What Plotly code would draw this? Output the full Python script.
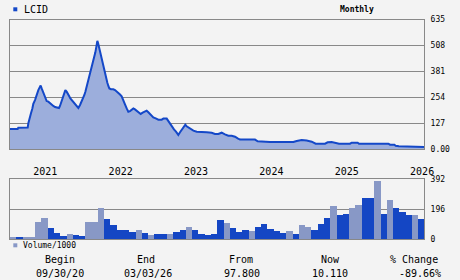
import plotly.graph_objects as go

# ---- data ----
symbol = "LCID"
period = "Monthly"
year_labels = ["2021", "2022", "2023", "2024", "2025", "2026"]
begin_date = "09/30/20"
end_date = "03/03/26"

# months since 09/30/20 and split-adjusted price
price_month = [0.0, 1.3, 1.4, 2.9, 3.0, 3.26, 3.42, 3.64, 3.79, 4.06, 4.22, 4.43, 4.59, 4.80, 4.96,
               5.12, 5.28, 5.44, 5.60, 5.76, 5.92, 6.18, 6.45, 6.71, 6.98, 7.25, 7.67, 7.88, 8.04,
               8.20, 8.41, 8.57, 8.73, 8.89, 9.10, 9.26, 9.47, 9.69, 9.90, 10.16, 10.43, 10.70,
               10.96, 11.23, 11.49, 11.76, 11.92, 12.08, 12.29, 12.45, 12.66, 12.82, 12.98, 13.14,
               13.30, 13.51, 13.67, 13.83, 13.99, 14.14, 14.30, 14.46, 14.62, 14.78, 14.94, 15.10,
               15.26, 15.42, 15.58, 15.74, 15.90, 16.16, 16.53, 16.80, 17.07, 17.33, 17.60, 17.86,
               18.13, 18.39, 18.66, 18.92, 19.19, 19.45, 19.72, 19.98, 20.25, 20.51, 20.89, 21.20,
               21.58, 21.84, 22.11, 22.37, 22.64, 22.90, 23.28, 23.70, 24.23, 24.50, 25.03, 25.29,
               25.56, 25.82, 26.19, 26.51, 26.88, 27.15, 27.42, 27.68, 28.00, 28.21, 28.48, 28.85,
               29.28, 29.81, 30.87, 31.40, 32.19, 32.72, 33.25, 33.78, 34.31, 34.84, 35.38, 35.91,
               36.33, 36.70, 39.09, 39.52, 41.48, 45.20, 45.73, 46.52, 47.32, 48.12, 48.75, 50.24,
               50.66, 51.30, 52.47, 54.22, 54.49, 55.44, 55.65, 60.32, 60.59, 61.28, 61.49, 62.0,
               66.0]
price_value = [97.8, 98, 104, 105, 126, 150, 175, 199, 221, 240, 257, 273, 289, 302, 311,
               297, 284, 273, 257, 245, 235, 232, 224, 216, 211, 206, 203, 201, 211,
               227, 248, 265, 281, 289, 281, 268, 261, 248, 240, 232, 221, 211,
               201, 216, 232, 248, 265, 281, 306, 327, 346, 371, 387, 407,
               428, 453, 474, 502, 530, 515, 494, 469, 445, 420, 396, 374,
               358, 342, 325, 309, 297, 293, 293, 289, 283, 276, 267, 258,
               242, 219, 199, 183, 186, 194, 199, 194, 186, 180, 172, 178,
               185, 188, 180, 172, 163, 155, 150, 144, 144, 149, 149, 137,
               121, 108, 96, 85, 69, 82, 96, 108, 119, 111, 105, 96,
               90, 85, 85, 82, 80, 74, 74, 80, 72, 65, 65, 60,
               52, 46, 46, 38, 34, 34, 39, 44, 42, 36, 26, 26,
               33, 34, 26, 26, 31, 31, 26, 26, 21, 21, 16, 14,
               10.11]

# monthly volume (/1000) and up-month flag
volume = [11, 11, 11, 11, 110, 134, 68, 35, 15, 29, 22, 15, 110, 110, 204, 127, 88, 55, 55, 44,
          55, 35, 27, 33, 33, 33, 46, 60, 80, 54, 33, 27, 33, 120, 106, 72, 46, 59, 53, 79,
          99, 66, 53, 40, 53, 33, 92, 79, 59, 99, 138, 217, 158, 165, 204, 224, 270, 264, 376,
          165, 257, 204, 178, 158, 158, 132]
up_month = [1, 0, 1, 1, 1, 1, 0, 0, 0, 1, 0, 0, 1, 1, 1, 0, 0, 0, 0, 0,
            1, 0, 1, 0, 0, 1, 0, 0, 1, 0, 0, 0, 0, 0, 1, 0, 0, 0, 1, 0,
            0, 0, 0, 0, 1, 0, 1, 1, 0, 0, 0, 1, 0, 0, 1, 1, 0, 0, 1,
            0, 1, 0, 0, 0, 1, 0]

price_ticks = [0, 127, 254, 381, 508, 635]
price_tick_text = ["0.00", "127", "254", "381", "508", "635"]
vol_ticks = [0, 196, 392]

# ---- styling ----
W, H = 460, 280
BG = "#f3f3f3"
GRID = "#888888"
LINE = "#1448c8"
FILL = "#9caedc"
DARK = "#1446c4"
LIGHT = "#8898c6"
MONO = "DejaVu Sans Mono"


def px(x):
    return x / W


def py(y):
    return 1 - y / H


n_months = len(volume)
x_dom = [px(9.5), px(424)]

fig = go.Figure()
fig.add_trace(go.Scatter(
    x=price_month, y=price_value, mode="lines", fill="tozeroy",
    fillcolor=FILL, line=dict(color=LINE, width=2), xaxis="x", yaxis="y",
    showlegend=False, hoverinfo="skip"))
fig.add_trace(go.Bar(
    x=[i + 0.5 for i in range(n_months)], y=volume, width=1,
    marker=dict(color=[LIGHT if u else DARK for u in up_month], line=dict(width=0)),
    xaxis="x2", yaxis="y2", showlegend=False, hoverinfo="skip"))

tick_pos = [5.7 + 12 * k for k in range(len(year_labels))]

axis_common = dict(showline=True, mirror=True, linecolor=GRID, linewidth=1,
                   zeroline=False, fixedrange=True, automargin=False)

fig.update_layout(
    width=W, height=H, margin=dict(l=0, r=0, t=0, b=0, pad=0),
    paper_bgcolor=BG, plot_bgcolor=BG, bargap=0,
    xaxis=dict(domain=x_dom, range=[0, n_months], tickvals=tick_pos, ticktext=year_labels,
               showgrid=False, ticks="", tickfont=dict(family=MONO, size=10, color="#000"),
               ticklabelstandoff=13, anchor="y", **axis_common),
    yaxis=dict(domain=[py(149), py(19.5)], range=[0, 635], side="right",
               tickvals=price_ticks, ticktext=price_tick_text, showgrid=True,
               gridcolor=GRID, gridwidth=1, ticks="", ticklabelstandoff=4,
               tickfont=dict(family=MONO, size=8, color="#000"), anchor="x", **axis_common),
    xaxis2=dict(domain=x_dom, range=[0, n_months], showticklabels=False, showgrid=False,
                ticks="", anchor="y2", **axis_common),
    yaxis2=dict(domain=[py(239), py(179.3)], range=[0, 392], side="right",
                tickvals=vol_ticks, showgrid=True, gridcolor=GRID, gridwidth=1, ticks="",
                ticklabelstandoff=4, tickfont=dict(family=MONO, size=8, color="#000"),
                anchor="x2", **axis_common),
)

shapes = [
    dict(type="rect", xref="paper", yref="paper", x0=px(13.3), x1=px(17.3),
         y0=py(11.3), y1=py(7.3), fillcolor=LINE, line=dict(width=0)),
    dict(type="rect", xref="paper", yref="paper", x0=px(13.3), x1=px(17.3),
         y0=py(247.3), y1=py(243.3), fillcolor=LIGHT, line=dict(width=0)),
]
fig.update_layout(shapes=shapes)

from_val = price_value[0]
now_val = price_value[-1]
change = (now_val / from_val - 1) * 100


def ann(text, x, y, size=10, anchor="center", bold=False):
    return dict(text=f"<b>{text}</b>" if bold else text, x=px(x), y=py(y),
                xref="paper", yref="paper", xanchor=anchor, yanchor="middle",
                showarrow=False, font=dict(family=MONO, size=size, color="#000"))


annotations = [
    ann(symbol, 22, 9.5, size=10, anchor="left"),
    ann(period, 357, 9, size=8, bold=True),
    ann("Volume/1000", 20.5, 245.5, size=8, anchor="left"),
    ann("Begin", 60.5, 259),
    ann(begin_date, 59.7, 273),
    ann("End", 146, 259),
    ann(end_date, 147.7, 273),
    ann("From", 241, 259),
    ann(f"{from_val:.3f}", 242, 273),
    ann("Now", 330.5, 259),
    ann(f"{now_val:.3f}", 329.5, 273),
    ann("% Change", 414, 259),
    ann(f"{change:.2f}%", 420, 273),
]
fig.update_layout(annotations=annotations)

fig.write_html("out.html")
